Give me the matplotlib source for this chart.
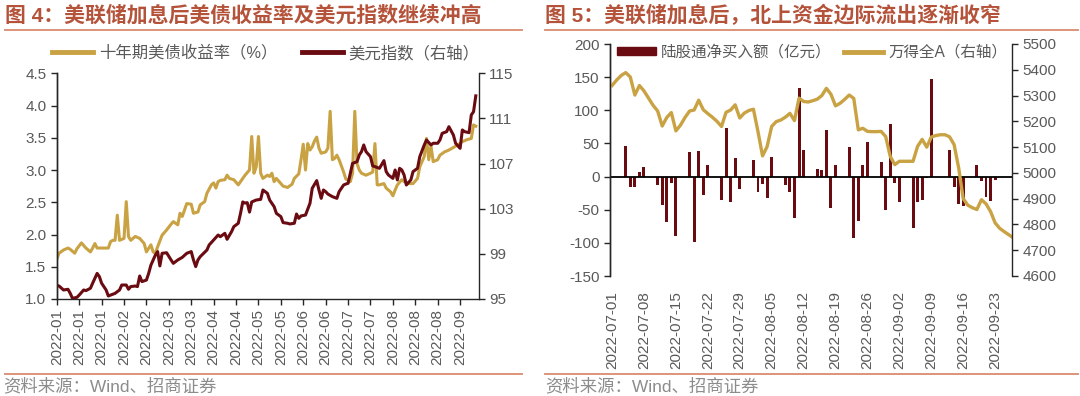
import pandas as pd
import matplotlib.pyplot as plt
import matplotlib.dates as mdates
from matplotlib.lines import Line2D
from matplotlib.patches import Patch

plt.rcParams['font.family'] = ['Liberation Sans', 'Noto Sans CJK SC']
plt.rcParams['axes.unicode_minus'] = False

# -----------------------------
# data, figure 4 (trading-day index from 2022-01-03)
# -----------------------------
ust_day = [0, 1, 3, 5, 6, 8, 9, 11, 13, 15, 16, 17, 18, 21, 23, 24, 25, 26, 27, 28,
           30, 31, 32, 33, 35, 37, 39, 40, 42, 43, 44, 45, 47, 49, 51, 52, 54, 55, 56, 58,
           60, 61, 63, 64, 66, 67, 69, 70, 71, 72, 73, 75, 76, 77, 79, 81, 82, 84, 86, 87,
           88, 89, 90, 91, 92, 94, 95, 96, 97, 98, 100, 101, 103, 105, 106, 108, 109, 110, 111, 112,
           113, 114, 115, 116, 117, 118, 120, 121, 122, 123, 124, 125, 126, 128, 129, 131, 132, 133, 134, 135,
           136, 138, 140, 141, 142, 143, 144, 146, 147, 149, 150, 151, 152, 154, 155, 157, 159, 161, 162, 164,
           165, 166, 167, 168, 170, 171, 173, 175, 177, 179, 181, 183, 185, 186, 187]
ust_10y = [1.62, 1.71, 1.76, 1.79, 1.77, 1.71, 1.78, 1.87, 1.79, 1.73, 1.79, 1.86, 1.79, 1.79, 1.79, 1.89, 1.91, 1.91, 2.30, 1.91,
           1.94, 2.51, 1.97, 1.91, 1.97, 1.94, 1.86, 1.73, 1.84, 1.73, 1.71, 1.81, 1.99, 2.07, 2.16, 2.20, 2.15, 2.33, 2.28, 2.48,
           2.47, 2.33, 2.35, 2.46, 2.51, 2.64, 2.77, 2.80, 2.72, 2.82, 2.84, 2.85, 2.92, 2.87, 2.85, 2.77, 2.82, 2.92, 3.00, 3.52,
           2.95, 3.05, 3.52, 2.95, 2.87, 2.92, 2.90, 2.95, 2.82, 2.87, 2.79, 2.75, 2.73, 2.78, 2.87, 2.94, 3.16, 3.40, 3.00, 3.41,
           3.31, 3.36, 3.45, 3.51, 3.34, 3.26, 3.28, 3.34, 3.91, 3.16, 3.18, 3.23, 3.16, 2.97, 2.86, 2.82, 2.95, 3.91, 3.10, 3.00,
           2.95, 2.92, 2.95, 2.97, 3.41, 2.77, 2.77, 2.79, 2.72, 2.66, 2.60, 2.69, 2.77, 2.85, 2.82, 2.79, 2.79, 2.87, 3.05, 3.21,
           3.49, 3.16, 3.37, 3.13, 3.16, 3.23, 3.28, 3.31, 3.35, 3.39, 3.44, 3.47, 3.49, 3.70, 3.68]

dxy_day = [0, 1, 3, 5, 6, 7, 9, 10, 12, 13, 15, 16, 18, 19, 20, 22, 23, 24, 26, 28,
           29, 31, 32, 33, 35, 36, 37, 38, 40, 41, 42, 44, 45, 46, 47, 49, 51, 52, 54, 56,
           58, 60, 61, 62, 63, 64, 67, 68, 70, 72, 73, 75, 76, 78, 79, 81, 82, 83, 84, 85,
           86, 87, 89, 91, 92, 94, 95, 97, 98, 100, 101, 103, 104, 106, 107, 108, 109, 111, 113, 114,
           116, 117, 118, 119, 120, 121, 123, 125, 126, 128, 129, 130, 131, 132, 134, 135, 136, 137, 138, 140,
           141, 142, 144, 146, 147, 148, 150, 151, 152, 153, 154, 155, 156, 158, 159, 161, 162, 164, 165, 167,
           168, 170, 171, 172, 174, 175, 177, 178, 180, 181, 182, 184, 185, 186, 187]
dxy = [96.2, 96.15, 95.8, 95.86, 95.5, 95.06, 95.15, 95.35, 95.8, 95.74, 95.95, 96.4, 97.27, 96.98, 96.4, 95.8, 95.27, 95.35, 95.5, 95.8,
       96.24, 96.24, 95.86, 96.1, 96.15, 96.1, 97.04, 96.54, 96.68, 97.27, 98.0, 98.9, 99.2, 97.93, 99.05, 99.1, 98.46, 98.16, 98.46, 98.69,
       99.05, 99.2, 98.46, 97.87, 98.46, 98.75, 99.34, 99.79, 100.23, 100.67, 100.52, 100.82, 100.29, 100.97, 101.41, 101.71, 102.59, 103.6, 103.5, 103.54,
       102.7, 103.6, 103.77, 103.83, 104.66, 104.36, 103.77, 103.18, 102.59, 102.3, 101.77, 101.71, 101.65, 101.71, 102.53, 102.15, 102.36, 102.44, 103.48, 104.81,
       105.49, 104.66, 103.92, 104.66, 104.51, 104.3, 104.07, 103.92, 104.51, 105.1, 105.19, 105.25, 106.14, 107.02, 107.17, 107.76, 108.06, 108.65, 108.06, 107.61,
       106.79, 106.73, 106.58, 107.26, 106.29, 105.99, 105.69, 106.43, 105.55, 106.58, 106.43, 105.99, 105.1, 105.55, 106.29, 106.58, 107.61, 108.65, 109.09, 108.65,
       108.8, 108.8, 109.09, 109.68, 109.83, 110.27, 109.53, 108.8, 108.35, 109.98, 109.83, 109.74, 111.31, 111.6, 113.0]

left_ticklabels = ["2022-01", "2022-01", "2022-01", "2022-02", "2022-02", "2022-03", "2022-03",
                   "2022-04", "2022-04", "2022-05", "2022-05", "2022-06", "2022-06", "2022-07",
                   "2022-07", "2022-08", "2022-08", "2022-08", "2022-09"]

# -----------------------------
# data, figure 5
# -----------------------------
flow_dates = ["2022-07-04", "2022-07-05", "2022-07-06", "2022-07-07", "2022-07-08",
              "2022-07-11", "2022-07-12", "2022-07-13", "2022-07-14", "2022-07-15",
              "2022-07-18", "2022-07-19", "2022-07-20", "2022-07-21", "2022-07-22",
              "2022-07-25", "2022-07-26", "2022-07-27", "2022-07-28", "2022-07-29",
              "2022-08-01", "2022-08-02", "2022-08-03", "2022-08-04", "2022-08-05",
              "2022-08-08", "2022-08-09", "2022-08-10", "2022-08-11", "2022-08-12",
              "2022-08-15", "2022-08-16", "2022-08-17", "2022-08-18", "2022-08-19",
              "2022-08-22", "2022-08-23", "2022-08-24", "2022-08-25", "2022-08-26",
              "2022-08-29", "2022-08-30", "2022-08-31", "2022-09-01", "2022-09-02",
              "2022-09-05", "2022-09-06", "2022-09-07", "2022-09-08", "2022-09-09",
              "2022-09-13", "2022-09-14", "2022-09-15", "2022-09-16",
              "2022-09-19", "2022-09-20", "2022-09-21", "2022-09-22", "2022-09-23"]
flow_net = [46, -15, -15, 7, 14,
            -12, -43, -69, -10, -90,
            37, -98, 38, -28, 17,
            -35, 73, -38, 28, -18,
            25, -24, -11, -32, 30,
            -12, -23, -63, 133, 40,
            12, 10, 70, -47, 18,
            44, -93, -67, 18, 52,
            22, -50, 79, -9, -38,
            -77, -39, -35, -2, 147,
            40, -15, -42, -45,
            17, -6, -31, -37, -5]

wind_a = [5339, 5360, 5378, 5389, 5372, 5302, 5339, 5318, 5290, 5262,
          5240, 5182, 5215, 5234, 5163, 5185, 5215, 5240, 5244, 5282,
          5245, 5230, 5216, 5200, 5180, 5235, 5244, 5264, 5213, 5232,
          5242, 5247, 5160, 5066, 5102, 5180, 5199, 5205, 5216, 5231,
          5203, 5290, 5277, 5275, 5280, 5286, 5300, 5328, 5305, 5260,
          5270, 5285, 5302, 5289, 5167, 5173, 5161, 5160, 5160, 5161,
          5141, 5064, 5032, 5045, 5045, 5045, 5045, 5103, 5130, 5100,
          5139, 5145, 5148, 5148, 5140, 5110, 5020, 4900, 4875, 4865,
          4858, 4896, 4880, 4850, 4806, 4785, 4772, 4760, 4748]
wind_dates = pd.date_range("2022-07-01", periods=len(wind_a), freq="D")

right_ticks = ["2022-07-01", "2022-07-08", "2022-07-15", "2022-07-22", "2022-07-29",
               "2022-08-05", "2022-08-12", "2022-08-19", "2022-08-26", "2022-09-02",
               "2022-09-09", "2022-09-16", "2022-09-23"]

# -----------------------------
# styles
# -----------------------------
GOLD = "#C9A243"
MAROON = "#6A0B12"
TITLE = "#B4533A"
RULE = "#D98B6E"
TXT = "#595959"
SPINE = "#262626"
W, H = 1080, 396


def box(x0, y0, x1, y1):
    return [x0 / W, 1 - y1 / H, (x1 - x0) / W, (y1 - y0) / H]


def style_axis(ax):
    ax.spines["top"].set_visible(False)
    for s in ["left", "right", "bottom"]:
        ax.spines[s].set_color(SPINE)
        ax.spines[s].set_linewidth(1.0)
    ax.tick_params(colors=SPINE, labelcolor=TXT, labelsize=11, length=4, width=1.0, direction="out")


fig = plt.figure(figsize=(10.8, 3.96), dpi=100)

# ---- figure 4 ----
ax1 = fig.add_axes(box(56.8, 73.3, 478.7, 299))
ax1b = ax1.twinx()
ax1.plot(ust_day, ust_10y, color=GOLD, lw=2.2)
ax1b.plot(dxy_day, dxy, color=MAROON, lw=2.2)
ax1.set_xlim(0, 188.3)
ax1.set_ylim(1.0, 4.5)
ax1.set_yticks([1.0, 1.5, 2.0, 2.5, 3.0, 3.5, 4.0, 4.5])
ax1.set_yticklabels([f"{v:.1f}" for v in ax1.get_yticks()])
ax1b.set_ylim(95, 115)
ax1b.set_yticks([95, 99, 103, 107, 111, 115])
ax1.set_xticks(range(0, 190, 10))
ax1.set_xticklabels(left_ticklabels, rotation=90)
for a in (ax1, ax1b):
    style_axis(a)
ax1b.spines["bottom"].set_visible(False)
ax1.spines["right"].set_visible(False)

h1 = [Line2D([], [], color=GOLD, lw=3.5), Line2D([], [], color=MAROON, lw=3.5)]
fig.legend(h1, ["十年期美债收益率（%）", "美元指数（右轴）"], loc="center", ncol=2,
           bbox_to_anchor=(266 / W, 1 - 53 / H), frameon=False, fontsize=11.8,
           handlelength=2.5, handletextpad=0.35, columnspacing=1.5, labelcolor=TXT)

# ---- figure 5 ----
ax2 = fig.add_axes(box(610, 44, 1012, 276))
ax2b = ax2.twinx()
ax2.bar(pd.to_datetime(flow_dates), flow_net, width=0.65, color=MAROON)
ax2b.plot(wind_dates, wind_a, color=GOLD, lw=2.4)
ax2.axhline(0, color="black", lw=1.3, zorder=3)
x0 = mdates.date2num(pd.Timestamp("2022-07-01"))
ax2.set_xlim(x0 - 0.45, x0 + 87.7)
ax2.set_ylim(-150, 200)
ax2.set_yticks(range(-150, 201, 50))
ax2b.set_ylim(4600, 5500)
ax2b.set_yticks(range(4600, 5501, 100))
ax2.set_xticks(pd.to_datetime(right_ticks))
ax2.set_xticklabels(right_ticks, rotation=90)
for a in (ax2, ax2b):
    style_axis(a)
    a.spines["bottom"].set_visible(False)
ax2.spines["right"].set_visible(False)
ax2.tick_params(axis="x", length=0, pad=11)

h2 = [Patch(color=MAROON), Line2D([], [], color=GOLD, lw=3.5)]
fig.legend(h2, ["陆股通净买入额（亿元）", "万得全A（右轴）"], loc="center", ncol=2,
           bbox_to_anchor=(812 / W, 1 - 52 / H), frameon=False, fontsize=11.2,
           handlelength=2.5, handleheight=0.5, handletextpad=0.35, columnspacing=0.8,
           labelcolor=TXT)

# ---- titles, rules, sources ----
fig.text(5 / W, 1 - 15.5 / H, "图 4：美联储加息后美债收益率及美元指数继续冲高",
         color=TITLE, fontsize=15, fontweight="bold", va="center")
fig.text(545 / W, 1 - 15.5 / H, "图 5：美联储加息后，北上资金边际流出逐渐收窄",
         color=TITLE, fontsize=15, fontweight="bold", va="center")
for xa, xb in [(5, 522), (545, 1078)]:
    fig.add_artist(Line2D([xa / W, xb / W], [1 - 29.5 / H] * 2, color=RULE, lw=1.3))
    fig.add_artist(Line2D([xa / W, xb / W], [1 - 374 / H] * 2, color=RULE, lw=1.3))
fig.text(3 / W, 1 - 386 / H, "资料来源：Wind、招商证券", color="#8C8C8C", fontsize=12.5, va="center")
fig.text(545 / W, 1 - 386 / H, "资料来源：Wind、招商证券", color="#8C8C8C", fontsize=12.5, va="center")

fig.savefig("out.png", dpi=100)
